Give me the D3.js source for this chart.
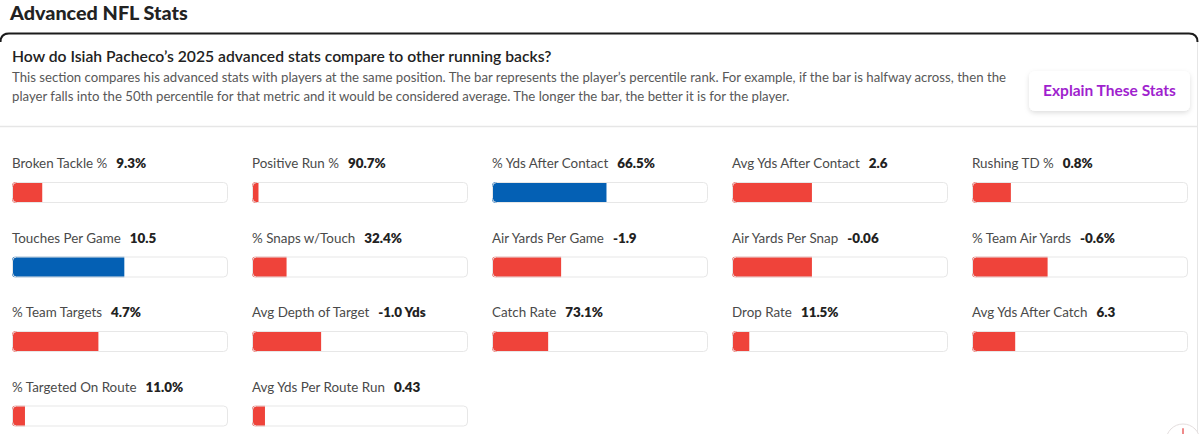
<!DOCTYPE html>
<html>
<head>
<meta charset="utf-8">
<script src="https://cdn.jsdelivr.net/npm/d3@7"></script>
<style>
    html, body { margin: 0; padding: 0; background: #fff; }
    svg { display: block; font-family: Lato, "Noto Sans", sans-serif; }
</style>
</head>
<body>
<div id="chart"></div>
<script>
// stat names, displayed values and percentile ranks (0-100), read left to right, top to bottom
const statLabels = [
    "Broken Tackle %", "Positive Run %", "% Yds After Contact", "Avg Yds After Contact", "Rushing TD %",
    "Touches Per Game", "% Snaps w/Touch", "Air Yards Per Game", "Air Yards Per Snap", "% Team Air Yards",
    "% Team Targets", "Avg Depth of Target", "Catch Rate", "Drop Rate", "Avg Yds After Catch",
    "% Targeted On Route", "Avg Yds Per Route Run"
];
const statValues = [
    "9.3%", "90.7%", "66.5%", "2.6", "0.8%",
    "10.5", "32.4%", "-1.9", "-0.06", "-0.6%",
    "4.7%", "-1.0 Yds", "73.1%", "11.5%", "6.3",
    "11.0%", "0.43"
];
const percentiles = [
    14, 3, 53, 37, 18,
    52, 16, 32, 37, 35,
    40, 32, 26, 8, 20,
    6, 6
];

const title = "Advanced NFL Stats";
const question = "How do Isiah Pacheco\u2019s 2025 advanced stats compare to other running backs?";
const descriptionLines = [
    "This section compares his advanced stats with players at the same position. The bar represents the player\u2019s percentile rank. For example, if the bar is halfway across, then the",
    "player falls into the 50th percentile for that metric and it would be considered average. The longer the bar, the better it is for the player."
];
const buttonLabel = "Explain These Stats";

const width = 1200;
const height = 434;
const columns = 5;
const barWidth = 216;
const barHeight = 21;

const colors = {
    good: "#0460b4",
    bad: "#ef433a",
    track: "#e7e7e7",
    text: "#222",
    label: "#4a4a4a",
    desc: "#585858",
    accent: "#a01fce"
};

const svg = d3.select("#chart").append("svg")
    .attr("width", width)
    .attr("height", height);

const defs = svg.append("defs");
const shadow = defs.append("filter")
    .attr("id", "btn-shadow")
    .attr("x", "-20%").attr("y", "-40%")
    .attr("width", "140%").attr("height", "180%");
shadow.append("feDropShadow")
    .attr("dx", 0).attr("dy", 2)
    .attr("stdDeviation", 2.5)
    .attr("flood-color", "#000")
    .attr("flood-opacity", 0.13);

// page heading
svg.append("text")
    .attr("x", 10)
    .attr("y", 19.5)
    .attr("fill", colors.text)
    .style("font-size", "19.8px")
    .style("font-weight", 900)
    .text(title);

// card frame
svg.append("path")
    .attr("d", "M0.5,42 Q0.5,33.5 9,33.5 H1189 Q1197.5,33.5 1197.5,42")
    .attr("fill", "none")
    .attr("stroke", "#1b1b1b")
    .attr("stroke-width", 2);

svg.append("line")
    .attr("x1", 1197.5).attr("x2", 1197.5)
    .attr("y1", 42).attr("y2", height)
    .attr("stroke", "#e6e6e6");

svg.append("line")
    .attr("x1", 0).attr("x2", 1197)
    .attr("y1", 126.5).attr("y2", 126.5)
    .attr("stroke", "#e6e6e6")
    .attr("stroke-width", 1.5);

// header text
svg.append("text")
    .attr("x", 12)
    .attr("y", 62)
    .attr("fill", colors.text)
    .style("font-size", "15.7px")
    .style("font-weight", 600)
    .text(question);

svg.append("g")
    .selectAll("text")
    .data(descriptionLines)
    .join("text")
    .attr("x", 12)
    .attr("y", (d, i) => 82 + i * 19)
    .attr("fill", colors.desc)
    .style("font-size", "13.2px")
    .text(d => d);

// explain button
const button = svg.append("g").attr("transform", "translate(1029,71)");
button.append("rect")
    .attr("width", 161)
    .attr("height", 40)
    .attr("rx", 6)
    .attr("fill", "#fff")
    .attr("filter", "url(#btn-shadow)");
button.append("text")
    .attr("x", 80.5)
    .attr("y", 25)
    .attr("text-anchor", "middle")
    .attr("fill", colors.accent)
    .style("font-size", "15.5px")
    .style("font-weight", 700)
    .text(buttonLabel);

// stat grid
const stats = statLabels.map((label, i) => ({
    label: label,
    value: statValues[i],
    pct: percentiles[i],
    col: i % columns,
    row: Math.floor(i / columns)
}));

const colX = d3.scaleLinear().domain([0, columns - 1]).range([12, 972]);
const rowY = d3.scaleLinear().domain([0, 3]).range([182, 405.5]);
const x = d3.scaleLinear().domain([0, 100]).range([0, barWidth]);

const cells = svg.append("g")
    .selectAll("g.stat")
    .data(stats)
    .join("g")
    .attr("class", "stat")
    .attr("transform", d => "translate(" + colX(d.col) + "," + rowY(d.row) + ")");

const label = cells.append("text")
    .attr("x", 0)
    .attr("y", -14)
    .style("font-size", "13.4px");
label.append("tspan")
    .attr("fill", colors.label)
    .text(d => d.label);
label.append("tspan")
    .attr("dx", 9)
    .attr("fill", colors.text)
    .style("font-weight", 800)
    .text(d => d.value);

cells.append("clipPath")
    .attr("id", (d, i) => "track-" + i)
    .append("rect")
    .attr("width", barWidth)
    .attr("height", barHeight)
    .attr("rx", 4);

cells.append("rect")
    .attr("clip-path", (d, i) => "url(#track-" + i + ")")
    .attr("width", d => x(d.pct))
    .attr("height", barHeight)
    .attr("fill", d => d.pct >= 50 ? colors.good : colors.bad);

cells.append("rect")
    .attr("x", 0.5).attr("y", 0.5)
    .attr("width", barWidth - 1)
    .attr("height", barHeight - 1)
    .attr("rx", 4)
    .attr("fill", "none")
    .attr("stroke", colors.track);

// feedback badge peeking in at the corner
const badge = svg.append("g").attr("transform", "translate(1183,441)");
badge.append("circle")
    .attr("r", 17)
    .attr("fill", "#fff")
    .attr("stroke", "#e4dede");
badge.append("path")
    .attr("d", "M0,-12 L0,-5")
    .attr("stroke", "#ef8a8a")
    .attr("stroke-width", 2)
    .attr("stroke-linecap", "round");
</script>
</body>
</html>
